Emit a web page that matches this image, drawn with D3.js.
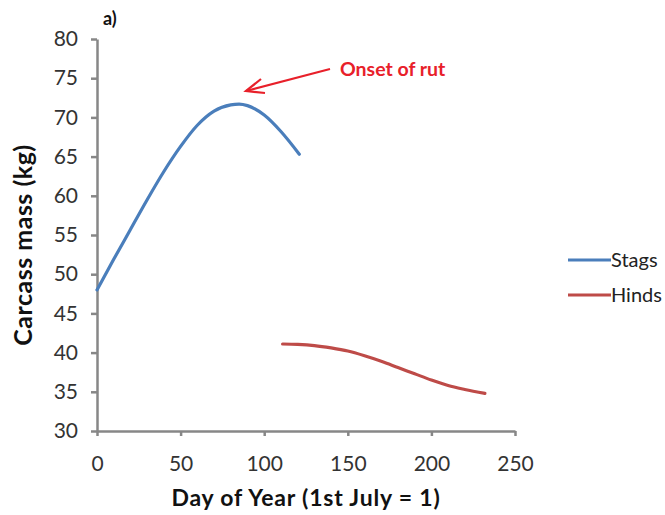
<!DOCTYPE html>
<html>
<head>
<meta charset="utf-8">
<script src="https://cdn.jsdelivr.net/npm/d3@7"></script>
<style>
    body { margin: 0; background: #fff; }
    text { font-family: Lato, "Open Sans", sans-serif; }
</style>
</head>
<body>
<div id="chart"></div>
<script>
// Stags: carcass mass (kg) by day of year
const stagDays = [0, 10, 20, 30, 40, 50, 60, 70, 80, 85, 90, 100, 110, 121];
const stagMass = [48.0, 51.9, 55.7, 59.5, 63.1, 66.3, 69.0, 70.8, 71.6, 71.7, 71.5, 70.3, 68.2, 65.3];

// Hinds
const hindDays = [111, 120, 130, 140, 150, 160, 170, 180, 190, 200, 210, 220, 232];
const hindMass = [41.1, 41.05, 40.9, 40.6, 40.2, 39.6, 38.9, 38.1, 37.3, 36.5, 35.8, 35.3, 34.8];

const xTicks = [0, 50, 100, 150, 200, 250];
const yTicks = [30, 35, 40, 45, 50, 55, 60, 65, 70, 75, 80];

const seriesNames = ["Stags", "Hinds"];
const seriesColors = ["#4a7ebb", "#be4b48"];

class MassChart {

    constructor(parentElement) {
        this.parentElement = parentElement;
        this.initVis();
    }

    initVis() {
        let vis = this;

        vis.margin = {top: 39, right: 150, bottom: 84, left: 97};
        vis.width = 665 - vis.margin.left - vis.margin.right;
        vis.height = 515 - vis.margin.top - vis.margin.bottom;

        vis.root = d3.select(`#${vis.parentElement}`)
            .append("svg")
            .attr("width", 665)
            .attr("height", 515);

        vis.svg = vis.root.append("g")
            .attr("transform", `translate(${vis.margin.left},${vis.margin.top})`);

        vis.xScale = d3.scaleLinear().domain([0, 250]).range([0, vis.width]);
        vis.yScale = d3.scaleLinear().domain([30, 80]).range([vis.height, 0]);

        // Axes, Excel-like grey with outside ticks
        vis.svg.append("g")
            .attr("class", "x-axis")
            .attr("transform", `translate(0,${vis.height})`)
            .call(d3.axisBottom(vis.xScale).tickValues(xTicks).tickSize(5).tickSizeOuter(0).tickPadding(20));

        vis.svg.append("g")
            .attr("class", "y-axis")
            .call(d3.axisLeft(vis.yScale).tickValues(yTicks).tickSize(6).tickSizeOuter(0).tickPadding(13));

        vis.svg.selectAll(".x-axis path, .x-axis line, .y-axis path, .y-axis line")
            .style("stroke", "#878787")
            .style("stroke-width", 2.5);

        vis.svg.selectAll(".x-axis text, .y-axis text")
            .style("fill", "#333")
            .style("font-size", "21px");

        // Axis titles
        vis.root.append("text")
            .attr("x", 306)
            .attr("y", 506)
            .attr("text-anchor", "middle")
            .style("font-size", "23px")
            .style("letter-spacing", "0.8px")
            .style("font-weight", "bold")
            .style("fill", "#111")
            .text("Day of Year (1st July = 1)");

        vis.root.append("text")
            .attr("transform", "translate(32,245) rotate(-90)")
            .attr("text-anchor", "middle")
            .style("font-size", "25px")
            .style("letter-spacing", "0.5px")
            .style("font-weight", "bold")
            .style("fill", "#111")
            .text("Carcass mass (kg)");

        // Panel label
        vis.root.append("text")
            .attr("x", 103)
            .attr("y", 25)
            .style("font-size", "18px")
            .style("font-weight", "bold")
            .style("fill", "#111")
            .text("a)");

        vis.updateVis();
    }

    updateVis() {
        let vis = this;

        let series = [
            stagDays.map((d, i) => ({x: d, y: stagMass[i]})),
            hindDays.map((d, i) => ({x: d, y: hindMass[i]}))
        ];

        let line = d3.line()
            .x(d => vis.xScale(d.x))
            .y(d => vis.yScale(d.y))
            .curve(d3.curveMonotoneX);

        vis.svg.selectAll(".series")
            .data(series)
            .enter()
            .append("path")
            .attr("class", "series")
            .attr("d", line)
            .attr("fill", "none")
            .attr("stroke", (d, i) => seriesColors[i])
            .attr("stroke-width", 3.2)
            .attr("stroke-linecap", "round");

        // Legend
        let legend = vis.root.append("g");
        seriesNames.forEach((name, i) => {
            let yPos = 260 + i * 35;
            legend.append("line")
                .attr("x1", 568).attr("x2", 611)
                .attr("y1", yPos).attr("y2", yPos)
                .attr("stroke", seriesColors[i])
                .attr("stroke-width", 3.2);
            legend.append("text")
                .attr("x", 611)
                .attr("y", yPos + 7)
                .style("font-size", "20px")
                .style("fill", "#222")
                .text(name);
        });

        // Annotation: onset of rut
        let red = "#e8202a";
        vis.root.append("text")
            .attr("x", 340)
            .attr("y", 76)
            .style("font-size", "19.5px")
            .style("font-weight", "bold")
            .style("fill", red)
            .text("Onset of rut");

        vis.root.append("line")
            .attr("x1", 330).attr("y1", 69)
            .attr("x2", 246).attr("y2", 91)
            .attr("stroke", red)
            .attr("stroke-width", 2.2);

        vis.root.append("path")
            .attr("d", "M261,79 L246,91 L265,93")
            .attr("fill", "none")
            .attr("stroke", red)
            .attr("stroke-width", 2.2);
    }
}

new MassChart("chart");
</script>
</body>
</html>
